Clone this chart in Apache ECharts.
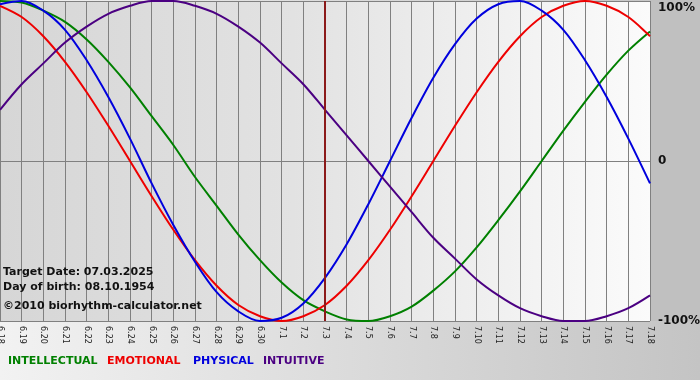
<!DOCTYPE html>
<html>
<head>
<meta charset="utf-8">
<script src="https://cdn.jsdelivr.net/npm/echarts@6/dist/echarts.min.js"></script>
<style>
html,body{margin:0;padding:0;background:#fff;}
#chart{width:700px;height:380px;}
</style>
</head>
<body>
<div id="chart"></div>
<script>
const categories = ['6.18','6.19','6.20','6.21','6.22','6.23','6.24','6.25','6.26','6.27','6.28','6.29','6.30',
  '7.1','7.2','7.3','7.4','7.5','7.6','7.7','7.8','7.9','7.10','7.11','7.12','7.13','7.14','7.15','7.16','7.17','7.18'];
const intellectual = [100,99,94,87,76,62,46,28,10,-10,-28,-46,-62,-76,-87,-94,-99,-100,-97,-91,-81,-69,-54,-37,-19,0,19,37,54,69,81];
const emotional = [97,90,78,62,43,22,0,-22,-43,-62,-78,-90,-97,-100,-97,-90,-78,-62,-43,-22,0,22,43,62,78,90,97,100,97,90,78];
const physical = [98,100,94,82,63,40,14,-14,-40,-63,-82,-94,-100,-98,-89,-73,-52,-27,0,27,52,73,89,98,100,94,82,63,40,14,-14];
const intuitive = [32,48,61,74,84,92,97,100,100,97,92,84,74,61,48,32,16,0,-16,-32,-48,-61,-74,-84,-92,-97,-100,-100,-97,-92,-84];
const targetDate = '7.3';
const yTicks = {'100':'100%','0':'0','-100':'-100%'};
const infoLines = ['Target Date: 07.03.2025','Day of birth: 08.10.1954','\u00A92010 biorhythm-calculator.net'];
const legendNames = ['INTELLECTUAL','EMOTIONAL','PHYSICAL','INTUITIVE'];
const colors = ['#008000','#ee0000','#0000dd','#4b0082'];

const chart = echarts.init(document.getElementById('chart'), null, {renderer:'canvas'});
const FONT = '"DejaVu Sans", Verdana, sans-serif';
const legendX = [8, 107, 193, 263];

const graphics = [
  {type:'rect', z:-100, shape:{x:0,y:0,width:700,height:380},
   style:{fill:new echarts.graphic.LinearGradient(0,0,1,0,[{offset:0,color:'#f2f2f2'},{offset:1,color:'#c4c4c4'}])}},
  {type:'rect', z:-99, shape:{x:650,y:0,width:50,height:321}, style:{fill:'#c0c0c0'}},
  {type:'rect', z:-99, shape:{x:0,y:1,width:650,height:320},
   style:{fill:new echarts.graphic.LinearGradient(0,0,1,0,[{offset:0,color:'#d6d6d6'},{offset:0.45,color:'#e2e2e2'},{offset:1,color:'#fbfbfb'}])}}
];
const infoY = [272, 287, 306.5];
infoLines.forEach((t,i)=>graphics.push({type:'text', z:100, x:3, y:infoY[i],
  style:{text:t, font:'bold 11px '+FONT, fill:'#111', textVerticalAlign:'middle'}}));
legendNames.forEach((t,i)=>graphics.push({type:'text', z:100, x:legendX[i], y:361.5,
  style:{text:t, font:'bold 11px '+FONT, fill:colors[i], textVerticalAlign:'middle'}}));

const mk = (name, data, color, extra) => Object.assign({
  name, type:'line', data, smooth:0.33, symbol:'none', color,
  lineStyle:{width:2, color}, silent:true, animation:false
}, extra||{});

chart.setOption({
  animation:false,
  graphic: graphics,
  grid:{left:0, right:50, top:1, bottom:59, containLabel:false, outerBoundsMode:'none'},
  xAxis:{
    type:'category', data:categories, boundaryGap:false,
    axisLine:{show:true, lineStyle:{color:'#808080', width:1}},
    axisTick:{show:true, length:4, interval:0, lineStyle:{color:'#808080'}},
    splitLine:{show:true, interval:0, lineStyle:{color:'#808080', width:1}},
    axisLabel:{interval:0, rotate:-90, margin:5, fontSize:8, fontFamily:FONT, color:'#222'}
  },
  yAxis:{
    type:'value', min:-100, max:100, interval:100, position:'right',
    axisLine:{show:false}, axisTick:{show:false},
    splitLine:{show:true, lineStyle:{color:'#808080', width:1}},
    axisLabel:{margin:8, fontSize:12, fontWeight:'bold', fontFamily:FONT, color:'#111',
      formatter: v => v===100 ? '{t|'+yTicks['100']+'}' : (yTicks[String(v)]||''),
      rich:{t:{fontSize:12, fontWeight:'bold', fontFamily:FONT, color:'#111', padding:[14,0,0,0]}}}
  },
  series:[
    mk(legendNames[0], intellectual, colors[0], {
      markLine:{silent:true, symbol:'none', label:{show:false},
        lineStyle:{color:'#8b1a1a', width:2, type:'solid'}, data:[{xAxis:targetDate}]}}),
    mk(legendNames[1], emotional, colors[1]),
    mk(legendNames[2], physical, colors[2]),
    mk(legendNames[3], intuitive, colors[3])
  ]
});
</script>
</body>
</html>
